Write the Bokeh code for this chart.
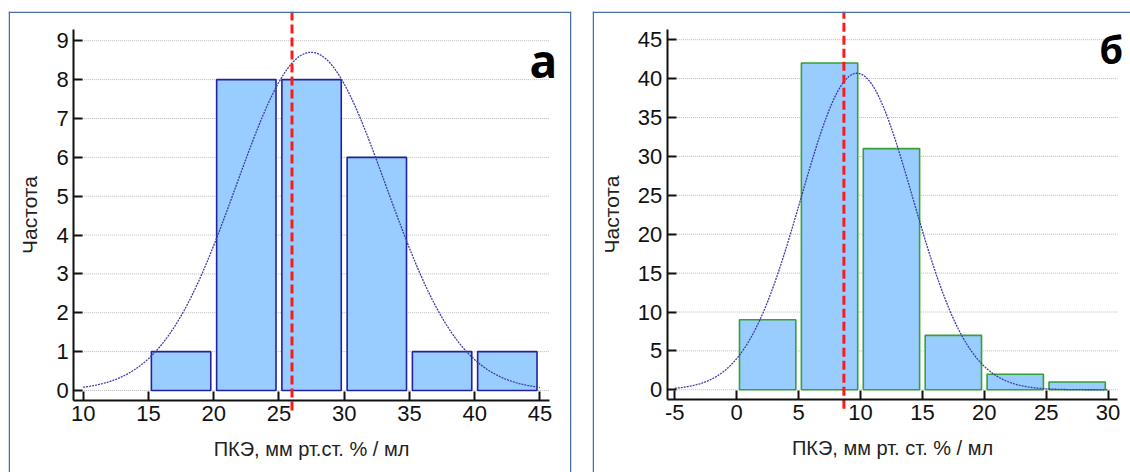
import numpy as np
from bokeh.plotting import figure
from bokeh.layouts import row
from bokeh.models import Range1d, LinearAxis, FixedTicker, Label, Span
from bokeh.embed import file_html
from bokeh.resources import INLINE

# ---------------- data: panel "а" ----------------
a_bin_left = [15, 20, 25, 30, 35, 40]
a_counts = [1, 8, 8, 6, 1, 1]
a_marker = 26.0          # red dashed reference line
a_fit_mean = 27.46       # fitted normal curve
a_fit_sd = 5.73
a_xticks = [10, 15, 20, 25, 30, 35, 40, 45]
a_yticks = [0, 1, 2, 3, 4, 5, 6, 7, 8, 9]
a_xlabel = "ПКЭ, мм рт.ст. % / мл"

# ---------------- data: panel "б" ----------------
b_bin_left = [0, 5, 10, 15, 20, 25]
b_counts = [9, 42, 31, 7, 2, 1]
b_marker = 8.66
b_fit_mean = 9.71
b_fit_sd = 4.51
b_xticks = [-5, 0, 5, 10, 15, 20, 25, 30]
b_yticks = [0, 5, 10, 15, 20, 25, 30, 35, 40, 45]
b_xlabel = "ПКЭ, мм рт. ст. % / мл"

bin_width = 5
ylabel = "Частота"

FILL = "#99ccff"
BORDER = "#4a6fa5"
FONT = "Liberation Sans"


def make_panel(bin_left, counts, marker, mu, sd, xticks, yticks, xlabel, letter,
               edge_color, lay):
    # pixel -> data calibration (layout only)
    (page_x0, fig_w, fx0, fx1, fy0, fy1, xv0, xpx0, xppu, yv0, ypx0, yppu,
     yaxis_px, xaxis_py, yaxis_top_py, xaxis_right_px, red_bottom_py,
     letter_px, letter_py, letter_size, right_border) = lay

    def X(px):
        return xv0 + (px - xpx0) / xppu

    def Y(py):
        return yv0 + (ypx0 - py) / yppu

    p = figure(width=fig_w, height=472,
               x_range=Range1d(X(fx0), X(fx1)), y_range=Range1d(Y(fy1), Y(fy0)),
               output_backend="svg", toolbar_location=None,
               x_axis_type=None, y_axis_type=None,
               min_border_left=fx0 - page_x0, min_border_right=page_x0 + fig_w - fx1,
               min_border_top=fy0, min_border_bottom=472 - fy1)
    p.outline_line_color = None
    p.background_fill_color = "white"
    p.border_fill_color = "white"

    ax_lo, ax_hi = X(yaxis_px), X(xaxis_right_px)
    ay_lo, ay_hi = Y(xaxis_py), Y(yaxis_top_py)

    # horizontal dotted grid lines at the y ticks
    p.segment(x0=[ax_lo] * len(yticks), x1=[ax_hi] * len(yticks), y0=yticks, y1=yticks,
              line_color="#b8b8b8", line_width=1, line_dash="1 1")

    # histogram bars
    centers = [b + bin_width / 2 for b in bin_left]
    p.vbar(x=centers, top=counts, bottom=0, width=4.55,
           fill_color=FILL, line_color=edge_color, line_width=1.6)

    # fitted normal curve
    n = sum(counts)
    xs = np.linspace(xticks[0], xticks[-1], 400)
    ys = n * bin_width / (sd * np.sqrt(2 * np.pi)) * np.exp(-0.5 * ((xs - mu) / sd) ** 2)
    p.line(xs, ys, line_color="#3c3ca8", line_width=1.3, line_dash="2 1")

    # red dashed line
    p.segment(x0=[marker], x1=[marker], y0=[Y(red_bottom_py)], y1=[Y(fy0)],
              line_color="#ff1a1a", line_width=3, line_dash="9 4")

    # axes
    xaxis = LinearAxis(fixed_location=ay_lo, bounds=(ax_lo, ax_hi),
                       ticker=FixedTicker(ticks=xticks))
    yaxis = LinearAxis(fixed_location=ax_lo, bounds=(ay_lo, ay_hi),
                       ticker=FixedTicker(ticks=yticks))
    for ax in (xaxis, yaxis):
        ax.axis_line_width = 2
        ax.axis_line_color = "#111111"
        ax.major_tick_in = 9
        ax.major_tick_out = 0
        ax.major_tick_line_width = 2
        ax.major_tick_line_color = "#111111"
        ax.minor_tick_line_color = None
        ax.major_label_text_font = FONT
        ax.major_label_text_font_size = "22px"
        ax.major_label_text_color = "#111111"
        ax.axis_label_text_font = FONT
        ax.axis_label_text_font_style = "normal"
        ax.axis_label_text_color = "#222222"
    # plain hyphen-minus for negative tick labels, as in the original
    xaxis.major_label_overrides = {t: str(t) for t in xticks if t < 0}
    xaxis.axis_label_text_font_size = "20px"
    yaxis.axis_label_text_font_size = "21px"
    xaxis.major_label_standoff = 5
    yaxis.major_label_standoff = 5
    xaxis.axis_label = xlabel
    yaxis.axis_label = ylabel
    xaxis.axis_label_standoff = 14
    yaxis.axis_label_standoff = 12
    p.add_layout(xaxis, "below")
    p.add_layout(yaxis, "left")

    # panel border (top, left and optionally right)
    p.add_layout(Span(location=X(fx0 + 0.75), dimension="height", line_color=BORDER, line_width=1.5))
    p.add_layout(Span(location=Y(fy0 + 0.75), dimension="width", line_color=BORDER, line_width=1.5))
    if right_border:
        p.add_layout(Span(location=X(fx1 - 0.75), dimension="height", line_color=BORDER, line_width=1.5))

    # panel letter
    p.add_layout(Label(x=X(letter_px), y=Y(letter_py), text=letter,
                       text_font="Open Sans", text_font_style="bold",
                       text_font_size=letter_size, text_color="#000000",
                       text_baseline="alphabetic", text_align="left"))
    return p


lay_a = (0, 580, 8, 571, 11, 472, 10, 82.7, 13.05, 0, 390.0, 38.86,
         73.3, 400.3, 29, 549, 410, 529, 59, "46px", True)
lay_b = (580, 550, 592, 1130, 11, 472, -5, 674.3, 12.38, 0, 389.3, 7.78,
         666.7, 399.3, 29, 1117.3, 408.3, 1099, 48, "38px", False)

pa = make_panel(a_bin_left, a_counts, a_marker, a_fit_mean, a_fit_sd, a_xticks, a_yticks,
                a_xlabel, "а", "#22229a", lay_a)
pb = make_panel(b_bin_left, b_counts, b_marker, b_fit_mean, b_fit_sd, b_xticks, b_yticks,
                b_xlabel, "б", "#36a036", lay_b)

layout = row(pa, pb)
open("out.html", "w").write(file_html(layout, INLINE))
